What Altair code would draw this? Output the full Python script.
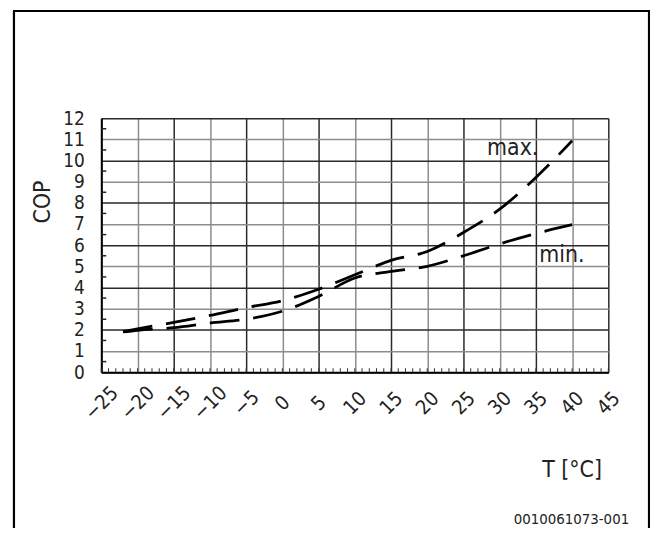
import altair as alt
import pandas as pd

# ---- data ----
temps = [-22, -20, -15, -10, -5, 0, 5, 10, 15, 20, 25, 30, 35, 40]
cop_max = [1.92, 2.05, 2.35, 2.68, 3.05, 3.38, 3.92, 4.6, 5.28, 5.7, 6.6, 7.7, 9.2, 10.93]
cop_min = [1.90, 1.98, 2.10, 2.32, 2.50, 2.88, 3.58, 4.45, 4.76, 5.0, 5.5, 6.06, 6.55, 6.97]

x_ticks = list(range(-25, 50, 5))
y_ticks = list(range(0, 13))
x_minor = list(range(-25, 46))
y_minor = [i + 0.5 for i in range(12)]

label_text = ["max.", "min."]
label_t = [31.8, 38.6]
label_cop = [10.57, 5.53]

code_text = "0010061073-001"

FONT = "Liberation Sans Narrow, DejaVu Sans Condensed, Roboto Condensed, Liberation Sans, sans-serif"
W, H = 511, 256

n = len(temps)
df = pd.DataFrame({
    "T": temps * 2,
    "COP": cop_max + cop_min,
    "series": ["max"] * n + ["min"] * n,
})
lab_df = pd.DataFrame({"T": label_t, "COP": label_cop, "text": label_text})
xminor_df = pd.DataFrame({"T": x_minor})
yminor_df = pd.DataFrame({"COP": y_minor})
one = pd.DataFrame({"a": [0]})

xs = alt.Scale(domain=[-25, 45], nice=False, zero=False)
ys = alt.Scale(domain=[0, 12], nice=False, zero=False)

x_axis = alt.Axis(
    values=x_ticks, format="d", grid=True,
    gridColor={"condition": {"test": "datum.value % 10 === 0", "value": "#8c8c8c"}, "value": "#2a2a2a"},
    gridWidth=1.5, ticks=False, domainColor="black", domainWidth=2,
    labelAngle=315, labelAlign="center", labelBaseline="middle", labelPadding=31,
    labelFont=FONT, labelFontSize=20, labelColor="#222", labelOverlap=False, labelFlush=False,
    title="T [°C]", titleFont=FONT, titleFontSize=23, titleFontWeight="normal", titleColor="#222",
    titleX=474, titleY=98, titleAlign="center", titleBaseline="middle",
)
y_axis = alt.Axis(
    values=y_ticks, format="d", grid=True,
    gridColor={"condition": {"test": "datum.value % 2 === 1", "value": "#8c8c8c"}, "value": "#2a2a2a"},
    gridWidth=1.5, ticks=False, domainColor="black", domainWidth=2,
    labelPadding=17, labelFont=FONT, labelFontSize=19, labelColor="#222",
    labelOverlap=False, labelFlush=False,
    title="COP", titleFont=FONT, titleFontSize=23, titleFontWeight="normal", titleColor="#222",
    titleAngle=270, titleX=-59, titleY=84, titleAlign="center", titleBaseline="middle",
)

X = alt.X("T:Q", scale=xs, axis=x_axis)
Y = alt.Y("COP:Q", scale=ys, axis=y_axis)

lines = alt.Chart(df).mark_line(
    color="black", strokeWidth=2.8, strokeDash=[30, 14], interpolate="monotone"
).encode(x=X, y=Y, detail="series:N")

xminor = alt.Chart(xminor_df).mark_rule(color="#333", strokeWidth=1).encode(
    x=X, y=alt.value(H), y2=alt.value(H - 4),
)

yminor = alt.Chart(yminor_df).mark_rule(color="#222", strokeWidth=1.5).encode(
    y=Y, x=alt.value(0), x2=alt.value(5),
)

labels = alt.Chart(lab_df).mark_text(
    font=FONT, fontSize=23, color="#222", align="center", baseline="middle"
).encode(x=X, y=Y, text="text:N")

code = alt.Chart(one).mark_text(
    font=FONT, fontSize=15, color="#222", align="right", baseline="middle"
).encode(x=alt.value(532), y=alt.value(404), text=alt.value(code_text))

frame_left = alt.Chart(one).mark_rule(color="black", strokeWidth=2.2).encode(
    x=alt.value(-88), y=alt.value(-108), y2=alt.value(420))
frame_right = alt.Chart(one).mark_rule(color="black", strokeWidth=2.2).encode(
    x=alt.value(552), y=alt.value(-108), y2=alt.value(420))
frame_top = alt.Chart(one).mark_rule(color="black", strokeWidth=2.2).encode(
    x=alt.value(-89), x2=alt.value(553), y=alt.value(-108))

chart = alt.layer(
    lines, xminor, yminor, labels, code, frame_left, frame_right, frame_top
).properties(
    width=W, height=H,
    autosize=alt.AutoSizeParams(type="none"),
    padding={"left": 94, "top": 109, "right": 42, "bottom": 155},
    background="white",
).configure_view(stroke=None)

chart.save("out.html", embed_options={"renderer": "svg", "actions": False})
